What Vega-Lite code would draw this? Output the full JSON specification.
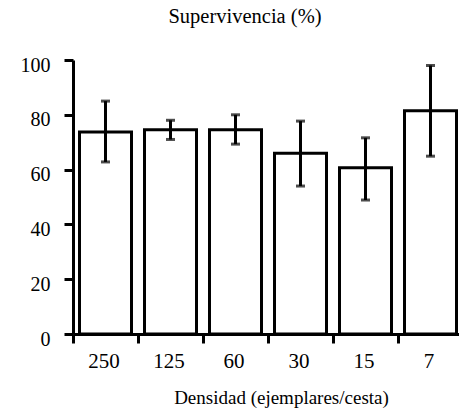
{
  "$schema": "https://vega.github.io/schema/vega-lite/v6.json",
  "autosize": {"type": "none"},
  "padding": {"left": 73, "top": 60, "right": 0, "bottom": 80},
  "width": 390,
  "height": 274,
  "background": "white",
  "config": {
    "view": {"stroke": null},
    "font": "Times New Roman, Liberation Serif, serif",
    "axis": {"domainColor": "black", "tickColor": "black", "labelColor": "black", "titleColor": "black", "grid": false, "labelFont": "Times New Roman, Liberation Serif, serif", "titleFont": "Times New Roman, Liberation Serif, serif"}
  },
  "title": {"text": "Supervivencia (%)", "font": "Times New Roman, Liberation Serif, serif", "fontSize": 20.5, "fontWeight": "normal", "color": "black", "offset": 28, "dx": -23},
  "data": {"values": [
    {"densidad": "250", "surv": 73.7, "lo": 62.8, "hi": 85},
    {"densidad": "125", "surv": 74.5, "lo": 71, "hi": 78},
    {"densidad": "60", "surv": 74.5, "lo": 69.3, "hi": 80},
    {"densidad": "30", "surv": 66, "lo": 54, "hi": 77.7},
    {"densidad": "15", "surv": 60.7, "lo": 48.9, "hi": 71.6},
    {"densidad": "7", "surv": 81.5, "lo": 64.9, "hi": 98}
  ]},
  "encoding": {
    "x": {"field": "densidad", "type": "nominal", "sort": null,
      "scale": {"paddingInner": 0, "paddingOuter": 0},
      "axis": {"title": "Densidad (ejemplares/cesta)", "labelAngle": 0, "labelFontSize": 21, "titleFontSize": 19, "titleFontWeight": "normal", "tickBand": "extent", "tickSize": 9, "tickWidth": 3, "domainWidth": 3, "labelPadding": 7, "titlePadding": 17, "labelOffset": -2, "titleX": 208}
    }
  },
  "layer": [
    {
      "mark": {"type": "bar", "fill": "white", "stroke": "black", "strokeWidth": 3, "width": {"band": 0.8}},
      "encoding": {
        "y": {"field": "surv", "type": "quantitative",
          "scale": {"domain": [0, 100], "nice": false},
          "axis": {"title": null, "values": [0, 20, 40, 60, 80, 100], "labelFontSize": 20, "tickSize": 9, "tickWidth": 3, "domainWidth": 3, "labelPadding": 14, "labelOffset": 5}
        }
      }
    },
    {
      "mark": {"type": "rule", "stroke": "black", "strokeWidth": 3},
      "encoding": {"y": {"field": "lo", "type": "quantitative"}, "y2": {"field": "hi"}}
    },
    {
      "mark": {"type": "tick", "color": "black", "size": 9, "thickness": 3, "orient": "horizontal"},
      "encoding": {"y": {"field": "lo", "type": "quantitative"}}
    },
    {
      "mark": {"type": "tick", "color": "black", "size": 9, "thickness": 3, "orient": "horizontal"},
      "encoding": {"y": {"field": "hi", "type": "quantitative"}}
    }
  ]
}
